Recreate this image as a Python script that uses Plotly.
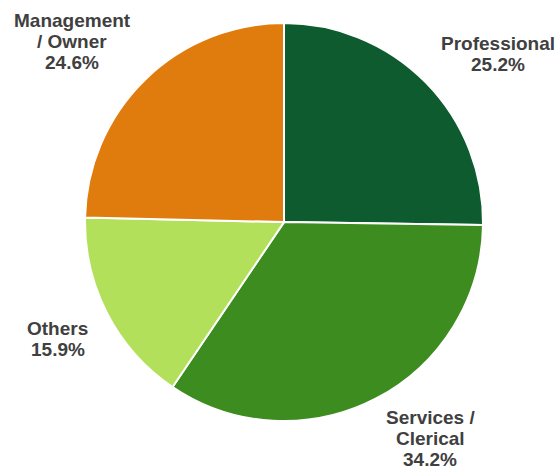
import math
import plotly.graph_objects as go

labels = ["Professional", "Services /|Clerical", "Others", "Management|/ Owner"]
values = [25.2, 34.2, 15.9, 24.6]
colors = ["#0d5b2f", "#3d8c1f", "#b3e05b", "#e07c0d"]

W, H = 557, 470
dom_x = [0.1526, 0.8672]
dom_y = [0.104, 0.951]
FS = 19          # label font size
PITCH = 21       # line pitch in px
KX, KY = 1.105, 1.05   # label offset factors relative to radius

# Arial/Liberation Sans Bold advance widths (per 1000 em) for width estimates
CW = {" ": 278, "/": 278, "%": 889, ".": 278, "C": 722, "M": 833, "O": 778,
      "P": 667, "S": 667, "a": 556, "c": 556, "e": 556, "f": 333, "g": 611,
      "h": 611, "i": 278, "l": 278, "m": 889, "n": 611, "o": 611, "r": 389,
      "s": 556, "t": 333, "v": 556, "w": 778}
def text_w(s):
    return sum(CW.get(ch, 556) for ch in s) / 1000 * FS

fig = go.Figure(go.Pie(
    labels=[l.replace("|", " ") for l in labels], values=values, sort=False,
    direction="clockwise", rotation=0,
    marker=dict(colors=colors, line=dict(color="white", width=2)),
    textinfo="none", hoverinfo="label+percent", showlegend=False,
    domain=dict(x=dom_x, y=dom_y),
))

# label placement from data (bisector of each slice), in pixels from top-left
cx_px = (dom_x[0] + dom_x[1]) / 2 * W
cy_px = (1 - (dom_y[0] + dom_y[1]) / 2) * H
r_px = min((dom_x[1] - dom_x[0]) * W, (dom_y[1] - dom_y[0]) * H) / 2
total = sum(values)
cum = 0
for lab, v in zip(labels, values):
    mid = (cum + v / 2) / total * 2 * math.pi
    cum += v
    dx, dy = math.sin(mid), -math.cos(mid)
    ax, ay = cx_px + dx * r_px * KX, cy_px + dy * r_px * KY
    lines = lab.split("|") + [f"{v:.1f}%"]
    bw = max(text_w(s) for s in lines)
    bh = len(lines) * PITCH
    left = ax if dx > 0 else ax - bw
    top = ay if dy > 0 else ay - bh
    for i, s in enumerate(lines):
        xc = left + bw / 2
        yc = top + PITCH * (i + 0.5)
        fig.add_annotation(
            x=xc / W, y=1 - yc / H, xref="paper", yref="paper",
            text=f"<b>{s}</b>", showarrow=False, xanchor="center", yanchor="middle",
            font=dict(family="Liberation Sans, Arial", size=FS, color="#404040"),
        )

fig.update_layout(width=W, height=H, margin=dict(l=0, r=0, t=0, b=0),
                  paper_bgcolor="white", showlegend=False)
fig.write_html("out.html")
